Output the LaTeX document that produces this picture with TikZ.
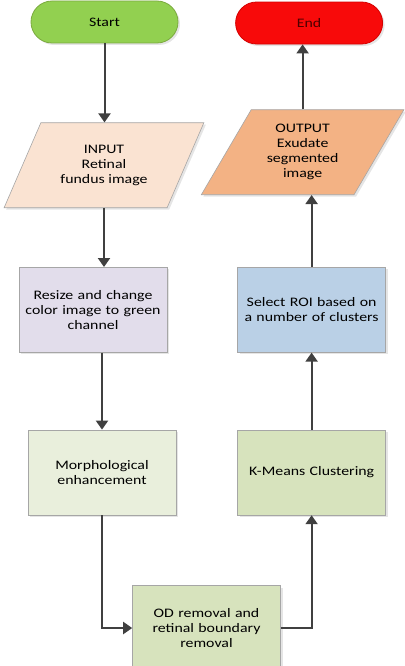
\documentclass[tikz,border=0pt]{standalone}
\usepackage{fontspec}
\setmainfont{Carlito}[FakeStretch=1.22]
\usepackage{xcolor}
\usepackage{tikz}
\usetikzlibrary{shapes.geometric, arrows.meta, positioning, shadows}

\definecolor{startgreen}{HTML}{92D050}
\definecolor{startedge}{HTML}{7BAA3F}
\definecolor{endred}{HTML}{F80A0A}
\definecolor{endedge}{HTML}{D40000}
\definecolor{inpeach}{HTML}{FAE3D2}
\definecolor{outorange}{HTML}{F3B284}
\definecolor{resizelilac}{HTML}{E2DDEB}
\definecolor{roiblue}{HTML}{BAD0E6}
\definecolor{morphgreen}{HTML}{E9EFDC}
\definecolor{kmgreen}{HTML}{D7E3BD}
\definecolor{arrgray}{HTML}{404040}

\begin{document}
\begin{tikzpicture}[
  x=1pt, y=1pt,
  txt/.style={font=\fontsize{13}{15}\selectfont, align=center},
  term/.style={txt, rectangle, rounded corners=21pt, draw, line width=0.8pt,
               minimum width=147pt, minimum height=42pt, inner sep=0pt,
               drop shadow={shadow xshift=2pt, shadow yshift=-2pt, fill=gray!40, opacity=0.5}},
  io/.style={txt, trapezium, trapezium left angle=58, trapezium right angle=122,
             trapezium stretches=true, draw=gray!70, line width=0.6pt,
             minimum width=200pt, minimum height=85pt, inner sep=0pt,
             drop shadow={shadow xshift=2pt, shadow yshift=-2pt, fill=gray!40, opacity=0.5}},
  stepbox/.style={txt, rectangle, draw=gray!70, line width=0.6pt,
                  minimum width=148pt, minimum height=85pt, text width=140pt, inner sep=0pt,
                  drop shadow={shadow xshift=2pt, shadow yshift=-2pt, fill=gray!40, opacity=0.5}},
  arr/.style={-{Triangle[length=9pt, width=12pt]}, line width=2pt, draw=arrgray}
]
\useasboundingbox (0,0) rectangle (404,-666);

% left column, going down
\node[term, fill=startgreen, draw=startedge] (start) at (104.5,-22) {Start};
\node[io, fill=inpeach, below=79pt of start, xshift=-0.5pt] (input)
  {INPUT\\Retinal\\fundus image};
\node[stepbox, fill=resizelilac, below=59pt of input, xshift=-11pt] (resize)
  {Resize and change\\color image to green\\channel};
\node[stepbox, fill=morphgreen, below=77pt of resize, xshift=9pt] (morph)
  {Morphological\\enhancement};
\node[stepbox, fill=kmgreen, below=70pt of morph, xshift=104.5pt] (od)
  {OD removal and\\retinal boundary\\removal};

% right column, going up
\node[stepbox, fill=kmgreen, right=61pt of morph] (kmeans) {K-Means Clustering};
\node[stepbox, fill=roiblue, above=77pt of kmeans] (roi)
  {Select ROI based on\\a number of clusters};
\node[io, fill=outorange, above=72pt of roi, xshift=-9pt, minimum width=203pt] (output)
  {OUTPUT\\Exudate\\segmented\\image};
\node[term, fill=endred, draw=endedge, text=black!50!red!60!black, above=65pt of output, xshift=6.5pt] (end) {End};

\draw[arr] (start.south) -- (start.south |- input.north);
\draw[arr] (input.south) -- (input.south |- resize.north);
\draw[arr] (morph.north |- resize.south) -- (morph.north);
\draw[arr] (morph.south) |- (od.west);
\draw[arr] (od.east) -| (kmeans.south);
\draw[arr] (kmeans.north) -- (roi.south);
\draw[arr] (roi.north) -- (roi.north |- output.south);
\draw[arr] (output.north) -- (output.north |- end.south);

\end{tikzpicture}
\end{document}
